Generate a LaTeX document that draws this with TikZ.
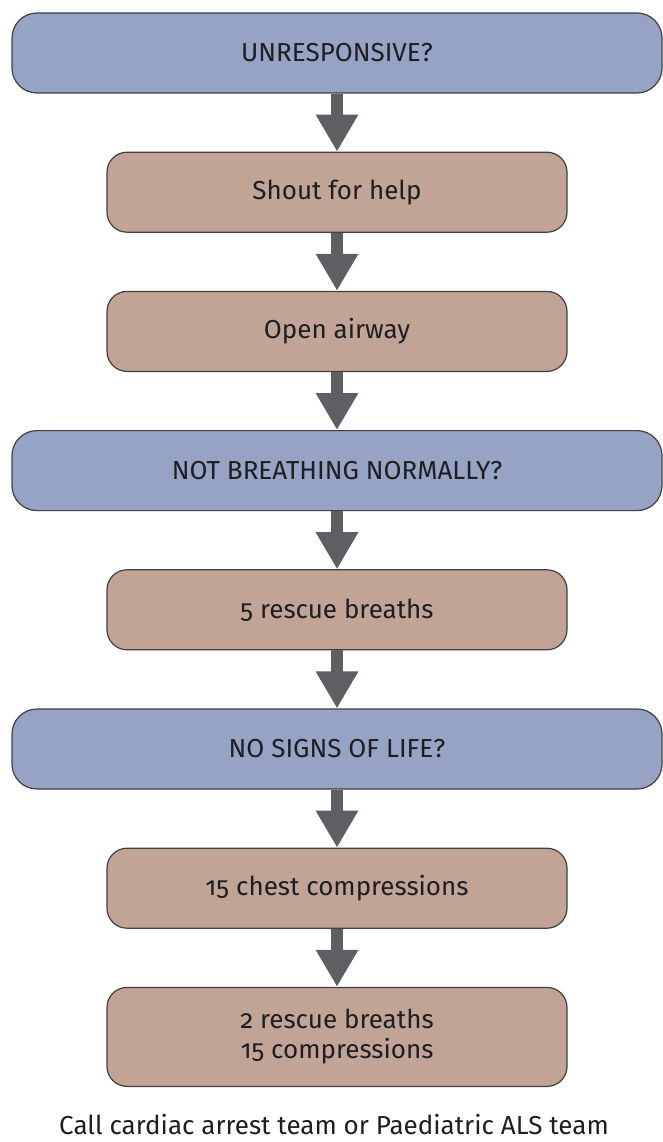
\documentclass[tikz,border=0pt]{standalone}
\usepackage{fontspec}
\setmainfont{Fira Sans}[RawFeature={+onum}]
\usetikzlibrary{shapes, arrows.meta, positioning}

\definecolor{askblue}{HTML}{97A3C4}
\definecolor{stepbrown}{HTML}{C2A497}
\definecolor{arrowgrey}{HTML}{5E5F63}
\definecolor{textdark}{HTML}{1E1E22}

\begin{document}
\begin{tikzpicture}[auto,>={Triangle[width=40pt,length=37pt]}, font=\fontsize{26}{30}\selectfont, text=textdark]

\tikzstyle{question} = [draw=black!75, fill=askblue, shape=rectangle, rounded corners=25pt, minimum height=80pt, minimum width=650pt, line width=1.2pt, node distance=58pt]
\tikzstyle{action} = [draw=black!75, fill=stepbrown, shape=rectangle, rounded corners=20pt, minimum height=80pt, minimum width=460pt, line width=1.2pt, node distance=58pt, align=center]

\useasboundingbox (0,0) rectangle (663pt,-1142pt);

\node [question] at (337pt,-53pt) (unresp) {UNRESPONSIVE?};
\node [action, below=of unresp] (shout) {Shout for help};
\node [action, below=of shout] (airway) {Open airway};
\node [question, below=of airway] (breathing) {NOT BREATHING NORMALLY?};
\node [action, below=of breathing] (rescue) {5 rescue breaths};
\node [question, below=of rescue] (signs) {NO SIGNS OF LIFE?};
\node [action, below=of signs] (chest) {15 chest compressions};
\node [action, below=of chest, minimum height=99pt] (cycle) {2 rescue breaths\\15 compressions};
\node at (334pt,-1125pt) (callteam) {Call cardiac arrest team or Paediatric ALS team};

\begin{scope}[line width=12pt, arrowgrey]
     \draw[->] (unresp) -- (shout);
     \draw[->] (shout) -- (airway);
     \draw[->] (airway) -- (breathing);
     \draw[->] (breathing) -- (rescue);
     \draw[->] (rescue) -- (signs);
     \draw[->] (signs) -- (chest);
     \draw[->] (chest) -- (cycle);
\end{scope}
\end{tikzpicture}
\end{document}
